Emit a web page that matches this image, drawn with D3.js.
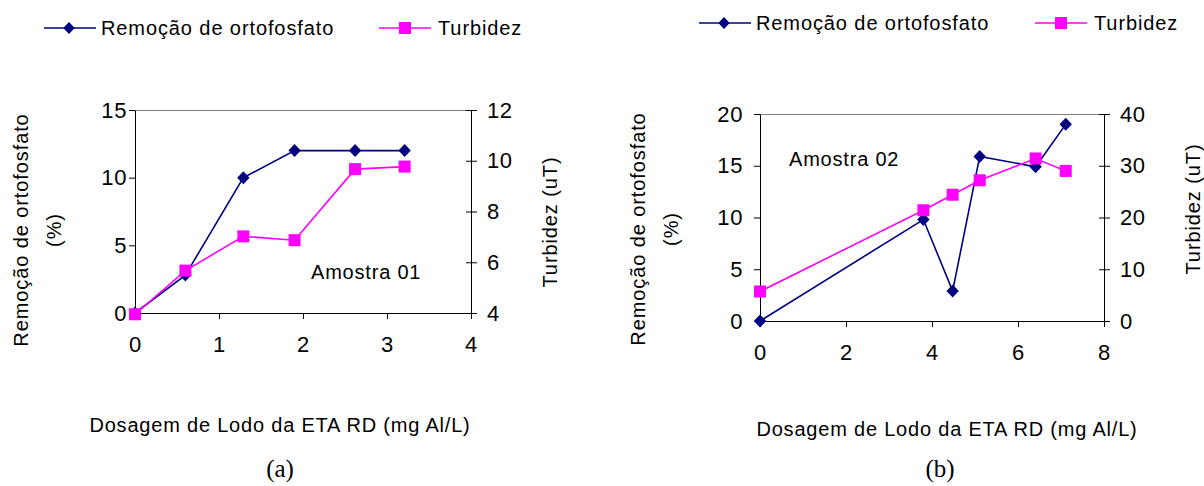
<!DOCTYPE html>
<html>
<head>
<meta charset="utf-8">
<script src="https://cdn.jsdelivr.net/npm/d3@7"></script>
<style>
  body { margin: 0; background: #fff; }
  text { font-family: "Liberation Sans", Arial, sans-serif; fill: #000; }
</style>
</head>
<body>
<svg id="canvas" width="1204" height="486"></svg>
<script>
// Amostra 01
const doseA = [0, 0.6, 1.29, 1.9, 2.62, 3.21];
const remA = [0, 2.8, 10, 12, 12, 12];
const turbA = [3.95, 5.67, 7.02, 6.87, 9.67, 9.77];

// Amostra 02
const doseB = [0, 3.8, 4.48, 5.11, 6.41, 7.11];
const remB = [0, 9.8, 2.9, 15.9, 14.9, 19];
const turbB = [5.7, 21.4, 24.4, 27.2, 31.4, 29];

const xTicksA = [0, 1, 2, 3, 4];
const remTicksA = [0, 5, 10, 15];
const turbTicksA = [4, 6, 8, 10, 12];
const xTicksB = [0, 2, 4, 6, 8];
const remTicksB = [0, 5, 10, 15, 20];
const turbTicksB = [0, 10, 20, 30, 40];

const seriesNames = ['Remoção de ortofosfato', 'Turbidez'];
const xTitle = 'Dosagem de Lodo da ETA RD (mg Al/L)';
const yTitle = ['Remoção de ortofosfato', '(%)'];
const y2Title = 'Turbidez (uT)';

const BLUE = '#000080';
const PINK = '#ff00ff';

const svg = d3.select('#canvas');
const fmt = d3.format('d');

const panels = [
  {
    left: 135, right: 471, top: 110, bottom: 313,
    dose: doseA, rem: remA, turb: turbA,
    xTicks: xTicksA, remTicks: remTicksA, turbTicks: turbTicksA,
    label: 'Amostra 01', labelX: 311, labelY: 279,
    leftPad: 2, titleX: [21, 54], titleY: 230, y2X: 550, y2Y: 222,
    xTitleX: 280, xTitleY: 432, tag: '(a)', tagX: 280,
    legendX: 44, legendY: 28, legend2X: 379
  },
  {
    left: 760, right: 1104, top: 114, bottom: 321,
    dose: doseB, rem: remB, turb: turbB,
    xTicks: xTicksB, remTicks: remTicksB, turbTicks: turbTicksB,
    label: 'Amostra 02', labelX: 789, labelY: 166,
    leftPad: 11, titleX: [638, 671], titleY: 229, y2X: 1193, y2Y: 209,
    xTitleX: 947, xTitleY: 436, tag: '(b)', tagX: 940,
    legendX: 699, legendY: 23, legend2X: 1035
  }
];

function diamond (g, x, y, r) {
  g.append('path')
    .attr('d', 'M' + x + ',' + (y - r) + 'L' + (x + r * 0.95) + ',' + y +
      'L' + x + ',' + (y + r) + 'L' + (x - r * 0.95) + ',' + y + 'Z')
    .attr('fill', BLUE);
}

panels.forEach(p => {
  const x = d3.scaleLinear()
    .domain([p.xTicks[0], p.xTicks[p.xTicks.length - 1]])
    .range([p.left, p.right]);
  const yL = d3.scaleLinear()
    .domain([p.remTicks[0], p.remTicks[p.remTicks.length - 1]])
    .range([p.bottom, p.top]);
  const yR = d3.scaleLinear()
    .domain([p.turbTicks[0], p.turbTicks[p.turbTicks.length - 1]])
    .range([p.bottom, p.top]);

  const g = svg.append('g');

  // gray top border of the plot area
  g.append('line')
    .attr('x1', p.left).attr('x2', p.right)
    .attr('y1', p.top + 0.5).attr('y2', p.top + 0.5)
    .attr('stroke', '#808080');

  const ax = g.append('g')
    .attr('transform', 'translate(0,' + p.bottom + ')')
    .call(d3.axisBottom(x).tickValues(p.xTicks).tickFormat(fmt)
      .tickSize(6).tickSizeOuter(0));
  ax.selectAll('text').attr('y', 31).attr('dy', '0.35em');

  g.append('g')
    .attr('transform', 'translate(' + p.left + ',0)')
    .call(d3.axisLeft(yL).tickValues(p.remTicks).tickFormat(fmt).tickSize(6)
      .tickSizeOuter(0).tickPadding(p.leftPad));

  const ar = g.append('g')
    .attr('transform', 'translate(' + p.right + ',0)')
    .call(d3.axisRight(yR).tickValues(p.turbTicks).tickFormat(fmt).tickSize(6)
      .tickSizeOuter(0).tickPadding(10));
  ar.selectAll('.tick line').attr('x1', -5);

  g.selectAll('.domain').attr('stroke', '#000');
  g.selectAll('.tick line').attr('stroke', '#000');
  g.selectAll('.tick text')
    .style('font-size', '22px')
    .style('letter-spacing', '0.6px')
    .attr('fill', '#000');

  // series lines
  const remLine = d3.line().x((d, i) => x(p.dose[i])).y(d => yL(d));
  const turbLine = d3.line().x((d, i) => x(p.dose[i])).y(d => yR(d));

  g.append('path').datum(p.rem)
    .attr('d', remLine).attr('fill', 'none')
    .attr('stroke', BLUE).attr('stroke-width', 1.6);
  p.rem.forEach((d, i) => diamond(g, x(p.dose[i]), yL(d), 6.5));

  g.append('path').datum(p.turb)
    .attr('d', turbLine).attr('fill', 'none')
    .attr('stroke', PINK).attr('stroke-width', 1.6);
  g.selectAll('rect.turb').data(p.turb).enter().append('rect')
    .attr('class', 'turb')
    .attr('x', (d, i) => x(p.dose[i]) - 6)
    .attr('y', d => yR(d) - 6)
    .attr('width', 12).attr('height', 12)
    .attr('fill', PINK);

  g.append('text')
    .attr('x', p.labelX).attr('y', p.labelY)
    .style('font-size', '20px').style('letter-spacing', '0.8px')
    .text(p.label);

  // axis titles
  yTitle.forEach((t, i) => {
    g.append('text')
      .attr('transform', 'translate(' + p.titleX[i] + ',' + p.titleY + ') rotate(-90)')
      .attr('text-anchor', 'middle').attr('dy', '0.35em')
      .style('font-size', '20px').style('letter-spacing', '0.9px')
      .text(t);
  });
  g.append('text')
    .attr('transform', 'translate(' + p.y2X + ',' + p.y2Y + ') rotate(-90)')
    .attr('text-anchor', 'middle').attr('dy', '0.35em')
    .style('font-size', '20px').style('letter-spacing', '0.9px')
    .text(y2Title);

  g.append('text')
    .attr('x', p.xTitleX).attr('y', p.xTitleY)
    .attr('text-anchor', 'middle')
    .style('font-size', '20px').style('letter-spacing', '0.8px')
    .text(xTitle);

  g.append('text')
    .attr('x', p.tagX).attr('y', 477)
    .attr('text-anchor', 'middle')
    .style('font-family', '"Liberation Serif", "Times New Roman", serif')
    .style('font-size', '25px')
    .text(p.tag);

  // legend
  const lg = g.append('g');
  lg.append('line')
    .attr('x1', p.legendX).attr('x2', p.legendX + 52)
    .attr('y1', p.legendY).attr('y2', p.legendY)
    .attr('stroke', BLUE).attr('stroke-width', 1.6);
  diamond(lg, p.legendX + 25, p.legendY, 6);
  lg.append('text')
    .attr('x', p.legendX + 57).attr('y', p.legendY).attr('dy', '0.35em')
    .style('font-size', '20px').style('letter-spacing', '0.9px')
    .text(seriesNames[0]);
  lg.append('line')
    .attr('x1', p.legend2X).attr('x2', p.legend2X + 52)
    .attr('y1', p.legendY).attr('y2', p.legendY)
    .attr('stroke', PINK).attr('stroke-width', 1.6);
  lg.append('rect')
    .attr('x', p.legend2X + 20).attr('y', p.legendY - 6)
    .attr('width', 12).attr('height', 12).attr('fill', PINK);
  lg.append('text')
    .attr('x', p.legend2X + 59).attr('y', p.legendY).attr('dy', '0.35em')
    .style('font-size', '20px').style('letter-spacing', '0.9px')
    .text(seriesNames[1]);
});
</script>
</body>
</html>
